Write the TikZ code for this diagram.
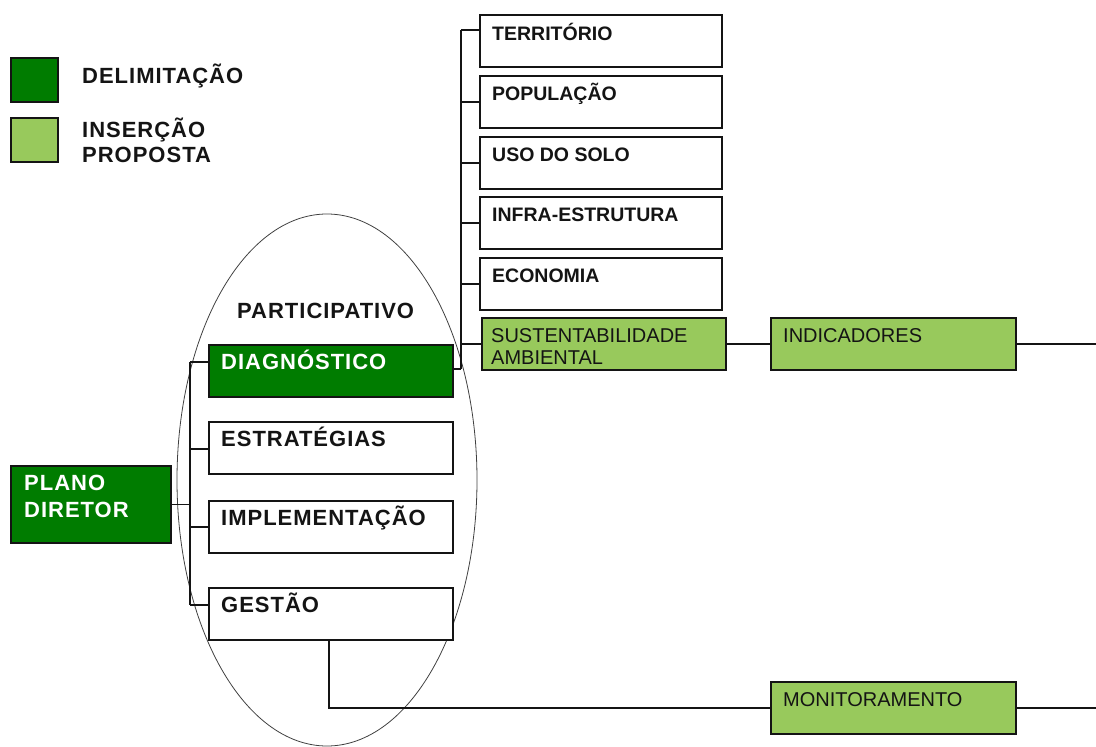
\documentclass[tikz,border=0pt]{standalone}
\usepackage{fontspec}
\setmainfont{Liberation Sans}
\newfontfamily\bigfam[LetterSpace=4.5]{Liberation Sans}
\usetikzlibrary{calc}
\definecolor{dgreen}{RGB}{0,124,0}
\definecolor{lgreen}{RGB}{152,201,92}
\definecolor{ink}{RGB}{20,20,20}
\begin{document}
\begin{tikzpicture}[x=1pt,y=-1pt,
  box/.style={draw=ink, line width=1.6pt, fill=white, rectangle, inner sep=0pt, outer sep=0pt, anchor=north west},
  bigbox/.style={box, minimum width=244, minimum height=52},
  colbox/.style={box, minimum width=242, minimum height=52},
  dbox/.style={fill=dgreen},
  lbox/.style={fill=lgreen},
  bigtxt/.style={font=\bigfam\fontsize{22}{27}\selectfont\bfseries, anchor=base west, inner sep=0pt, text=ink},
  smtxt/.style={font=\fontsize{19.5}{24}\selectfont\bfseries, anchor=base west, inner sep=0pt, text=ink},
  regtxt/.style={font=\fontsize{20}{24}\selectfont, anchor=base west, inner sep=0pt, text=ink},
  conn/.style={draw=ink, line width=1.3pt}]
\useasboundingbox (0,0) rectangle (1096,747);
% legend
\node[box, dbox, minimum width=47, minimum height=44] (lg1) at (11,58) {};
\node[box, lbox, minimum width=47, minimum height=44] (lg2) at (11,118) {};
\node[bigtxt] (lt1) at (82,83) {DELIMITAÇÃO};
\node[bigtxt] (lt2) at (82,137) {INSERÇÃO};
\node[bigtxt] (lt3) at (82,162) {PROPOSTA};
% ellipse
\draw[draw=black!75, line width=0.8pt] (327,480) ellipse [x radius=150, y radius=266];
\node[bigtxt] (part) at (237,318) {PARTICIPATIVO};
% main boxes
\node[box, dbox, minimum width=160, minimum height=77] (plano) at (11,466) {};
\node[bigtxt, text=white] at (24,490) {PLANO};
\node[bigtxt, text=white] at (24,517) {DIRETOR};
\node[bigbox, dbox] (diag) at (209,345) {};
\node[bigtxt, text=white] at (221,369) {DIAGNÓSTICO};
\node[bigbox] (estr) at (209,422) {};
\node[bigtxt] at (221,446) {ESTRATÉGIAS};
\node[bigbox] (impl) at (209,501) {};
\node[bigtxt] at (221,525) {IMPLEMENTAÇÃO};
\node[bigbox] (gest) at (209,588) {};
\node[bigtxt] at (221,612) {GESTÃO};
% left bus
\coordinate (bt) at (190,362);
\coordinate (bb) at (190,605);
\draw[conn] (bt) -- (bb);
\draw[conn] (plano.east) -- (plano.east -| bt);
\draw[conn] (bt) -- (bt -| diag.west);
\draw[conn] (190,449) -- (190,449 -| estr.west);
\draw[conn] (190,527) -- (190,527 -| impl.west);
\draw[conn] (bb) -- (bb -| gest.west);
% right column
\node[colbox] (terr) at (480,15) {};
\node[smtxt] at (492,40) {TERRITÓRIO};
\node[colbox] (popu) at (480,76) {};
\node[smtxt] at (492,100) {POPULAÇÃO};
\node[colbox] (uso) at (480,137) {};
\node[smtxt] at (492,161) {USO DO SOLO};
\node[colbox] (infra) at (480,197) {};
\node[smtxt] at (492,221) {INFRA-ESTRUTURA};
\node[colbox] (eco) at (480,258) {};
\node[smtxt] at (492,282) {ECONOMIA};
\node[box, lbox, minimum width=244, minimum height=52] (sust) at (482,318) {};
\node[regtxt] at (491,342) {SUSTENTABILIDADE};
\node[regtxt] at (491,364) {AMBIENTAL};
\node[box, lbox, minimum width=245, minimum height=52] (ind) at (771,318) {};
\node[regtxt] at (783,342) {INDICADORES};
\node[box, lbox, minimum width=245, minimum height=52] (mon) at (771,682) {};
\node[regtxt] at (783,706) {MONITORAMENTO};
% right bus
\coordinate (rt) at (461,30);
\coordinate (rb) at (461,369);
\draw[conn] (rt) -- (rb);
\draw[conn] (diag.east |- rb) -- (rb);
\draw[conn] (rt) -- (rt -| terr.west);
\draw[conn] (461,102) -- (461,102 -| popu.west);
\draw[conn] (461,163) -- (461,163 -| uso.west);
\draw[conn] (461,223) -- (461,223 -| infra.west);
\draw[conn] (461,284) -- (461,284 -| eco.west);
\draw[conn] (sust.west -| rt) -- (sust.west);
\draw[conn] (sust.east) -- (ind.west);
\coordinate (edge) at (1096,0);
\draw[conn] (ind.east) -- (ind.east -| edge);
% gestao to monitoramento
\coordinate (gdrop) at ($(gest.south west)+(120,0)$);
\draw[conn] (gdrop) |- (mon.west);
\draw[conn] (mon.east) -- (mon.east -| edge);
\end{tikzpicture}
\end{document}
